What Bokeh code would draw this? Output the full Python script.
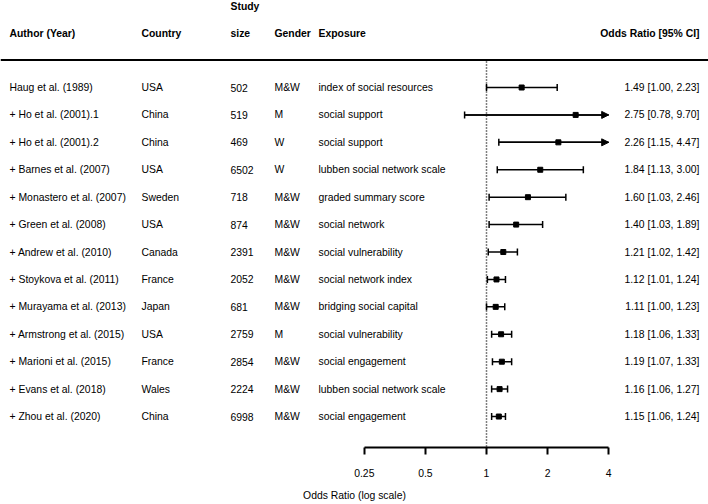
import math
from bokeh.plotting import figure
from bokeh.models import ColumnDataSource, Range1d, FixedTicker, Span, Arrow, NormalHead
from bokeh.core.properties import value
from bokeh.embed import file_html
from bokeh.resources import INLINE

# ---------------- data ----------------
authors = ["Haug et al. (1989)", "+ Ho et al. (2001).1", "+ Ho et al. (2001).2",
           "+ Barnes et al. (2007)", "+ Monastero et al. (2007)", "+ Green et al. (2008)",
           "+ Andrew et al. (2010)", "+ Stoykova et al. (2011)", "+ Murayama et al. (2013)",
           "+ Armstrong et al. (2015)", "+ Marioni et al. (2015)", "+ Evans et al. (2018)",
           "+ Zhou et al. (2020)"]
countries = ["USA", "China", "China", "USA", "Sweden", "USA", "Canada", "France",
             "Japan", "USA", "France", "Wales", "China"]
study_sizes = [502, 519, 469, 6502, 718, 874, 2391, 2052, 681, 2759, 2854, 2224, 6998]
genders = ["M&W", "M", "W", "W", "M&W", "M&W", "M&W", "M&W", "M&W", "M", "M&W", "M&W", "M&W"]
exposures = ["index of social resources", "social support", "social support",
             "lubben social network scale", "graded summary score", "social network",
             "social vulnerability", "social network index", "bridging social capital",
             "social vulnerability", "social engagement", "lubben social network scale",
             "social engagement"]
or_est = [1.49, 2.75, 2.26, 1.84, 1.60, 1.40, 1.21, 1.12, 1.11, 1.18, 1.19, 1.16, 1.15]
ci_low = [1.00, 0.78, 1.15, 1.13, 1.03, 1.03, 1.02, 1.01, 1.00, 1.06, 1.07, 1.06, 1.06]
ci_high = [2.23, 9.70, 4.47, 3.00, 2.46, 1.89, 1.42, 1.24, 1.23, 1.33, 1.33, 1.27, 1.24]
tick_values = [0.25, 0.5, 1, 2, 4]
tick_labels = ["0.25", "0.5", "1", "2", "4"]
ref_or = 1.0
headers = ["Author (Year)", "Country", "size", "Gender", "Exposure", "Odds Ratio [95% CI]"]
header_top = "Study"
x_label = "Odds Ratio (log scale)"

# ---------------- layout helpers (positions only) ----------------
PX_ONE = 486.0        # x where OR = 1
PX_DOUBLE = 61.1      # pixels per doubling
ROW0 = 87.0           # y of first row
ROW_H = 27.42         # pixels per row
W, FRAME_H = 708, 447

def xp(px):
    return 2 ** ((px - PX_ONE) / PX_DOUBLE)

def yp(py):
    return (py - ROW0) / ROW_H

FONT = "Liberation Sans"
FS = "10.4px"

n = len(authors)
rows = list(range(n))
xmax = tick_values[-1]

p = figure(frame_width=W, frame_height=FRAME_H, x_axis_type="log",
           x_range=Range1d(xp(0), xp(W)), y_range=Range1d(yp(FRAME_H), yp(0)),
           output_backend="svg", toolbar_location=None, y_axis_location=None,
           min_border_left=0, min_border_right=0, min_border_top=0, min_border_bottom=0,
           background_fill_color="white", border_fill_color="white")
p.outline_line_color = None
p.grid.visible = False

src = ColumnDataSource(dict(
    y=rows, author=authors, country=countries, size=[str(s) for s in study_sizes],
    gender=genders, exposure=exposures, est=or_est, lo=ci_low, hi=ci_high,
    hi_c=[min(h, xmax) for h in ci_high],
    ci=[f"{e:.2f} [{l:.2f}, {h:.2f}]" for e, l, h in zip(or_est, ci_low, ci_high)],
))

col_px = {"author": 9, "country": 141, "size": 230, "gender": 274, "exposure": 318}
for col, px in col_px.items():
    p.text(x=xp(px), y="y", text=col, source=src, text_font=value(FONT),
           text_font_size=FS, text_baseline="middle", text_align="left", text_color="black")
p.text(x=xp(699), y="y", text="ci", source=src, text_font=value(FONT),
       text_font_size=FS, text_baseline="middle", text_align="right", text_color="black")

# headers
hdr_px = [9, 141, 230, 274, 318]
hsrc = ColumnDataSource(dict(x=[xp(v) for v in hdr_px], y=[yp(33)] * 5, t=headers[:5]))
p.text(x="x", y="y", text="t", source=hsrc, text_font=value(FONT), text_font_size=FS,
       text_font_style="bold", text_baseline="middle", text_align="left", text_color="black")
p.text(x=[xp(699)], y=[yp(33)], text=[headers[5]], text_font=value(FONT), text_font_size=FS,
       text_font_style="bold", text_baseline="middle", text_align="right", text_color="black")
p.text(x=[xp(230)], y=[yp(5.5)], text=[header_top], text_font=value(FONT), text_font_size=FS,
       text_font_style="bold", text_baseline="middle", text_align="left", text_color="black")

# header rule
p.add_layout(Span(location=yp(59.5), dimension="width", line_color="black", line_width=2))

# reference line at OR = 1
p.segment(x0=[ref_or], y0=[yp(61)], x1=[ref_or], y1=[yp(FRAME_H)], line_color="black",
          line_width=1.5, line_dash="1 2")

# CI lines
p.segment(x0="lo", y0="y", x1="hi_c", y1="y", source=src, line_color="black", line_width=1.5)
# lower caps
p.scatter(x="lo", y="y", source=src, marker="dash", angle=math.pi / 2, size=7,
          line_color="black", line_width=1.5)
# upper caps (within axis)
inside = [i for i in rows if ci_high[i] <= xmax]
outside = [i for i in rows if ci_high[i] > xmax]
p.scatter(x=[ci_high[i] for i in inside], y=inside, marker="dash", angle=math.pi / 2,
          size=7, line_color="black", line_width=1.5)
# arrows for truncated upper bounds
asrc = ColumnDataSource(dict(x0=[ci_low[i] for i in outside], x1=[xmax] * len(outside),
                             y=outside))
p.add_layout(Arrow(x_start="x0", y_start="y", x_end="x1", y_end="y", source=asrc,
                   line_color="black", line_width=1.5,
                   end=NormalHead(size=7, fill_color="black", line_color="black")))
# point estimates
p.scatter(x="est", y="y", source=src, marker="square", size=5, fill_color="black",
          line_color="black")

# axis
ax = p.xaxis[0]
ax.ticker = FixedTicker(ticks=tick_values)
ax.major_label_overrides = {v: l for v, l in zip(tick_values, tick_labels)}
ax.bounds = (tick_values[0], tick_values[-1])
ax.axis_line_width = 2
ax.axis_line_color = "black"
ax.major_tick_line_width = 2
ax.major_tick_line_color = "black"
ax.major_tick_in = 0
ax.major_tick_out = 7
ax.minor_tick_line_color = None
ax.major_label_text_font = FONT
ax.major_label_text_font_size = FS
ax.major_label_text_color = "black"
ax.major_label_standoff = 14
ax.axis_label = x_label
ax.axis_label_text_font = FONT
ax.axis_label_text_font_size = FS
ax.axis_label_text_font_style = "normal"
ax.axis_label_text_color = "black"
ax.axis_label_standoff = 10

open("out.html", "w").write(file_html(p, INLINE))
